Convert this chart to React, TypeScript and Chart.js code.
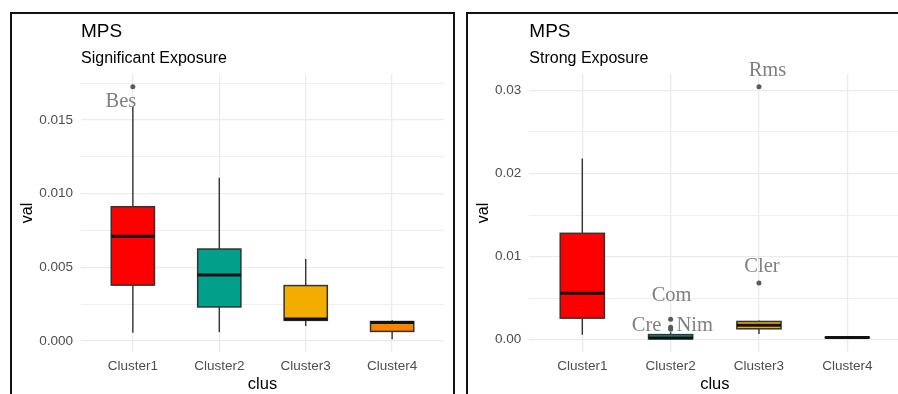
import React, { useEffect, useRef } from 'react';
import { Chart, registerables } from 'chart.js';

Chart.register(...registerables);

// ---------- data ----------
const categories = ['Cluster1', 'Cluster2', 'Cluster3', 'Cluster4'];
const chartTitle = 'MPS';
const xAxisTitle = 'clus';
const yAxisTitle = 'val';
const boxColors = ['#FF0000', '#00A08A', '#F2AD00', '#F98400'];

// Significant Exposure panel
const sigSubtitle = 'Significant Exposure';
const sigLower = [0.00057, 0.00061, 0.00102, 0.00012];
const sigQ1 = [0.0038, 0.00232, 0.00141, 0.00066];
const sigMedian = [0.00711, 0.00448, 0.0015, 0.00126];
const sigQ3 = [0.00912, 0.00625, 0.00377, 0.00133];
const sigUpper = [0.01591, 0.01109, 0.00557, 0.00141];
const sigOutClusters = [1];
const sigOutValues = [0.01727];
const sigOutLabels = ['Bes'];
const sigTicks = [0, 0.005, 0.01, 0.015];

// Strong Exposure panel
const strSubtitle = 'Strong Exposure';
const strLower = [0.0006, 0.00005, 0.00068, 0.0002];
const strQ1 = [0.0026, 0.00012, 0.00132, 0.00025];
const strMedian = [0.0056, 0.00022, 0.00176, 0.00028];
const strQ3 = [0.0128, 0.00062, 0.0022, 0.0003];
const strUpper = [0.0218, 0.0009, 0.00232, 0.00033];
const strOutClusters = [2, 2, 2, 3, 3];
const strOutValues = [0.00248, 0.00152, 0.00127, 0.00684, 0.03044];
const strOutLabels = ['Com', 'Cre', 'Nim', 'Cler', 'Rms'];
const strTicks = [0, 0.01, 0.02, 0.03];

// ---------- styles ----------
const SANS = '"Liberation Sans", Arial, sans-serif';
const SERIF = '"Liberation Serif", "Times New Roman", serif';
const labelOffsets: Record<string, [number, number]> = {
  Bes: [-12, 20],
  Com: [1, -18],
  Cre: [-24, 4],
  Nim: [24, 1.5],
  Cler: [3, -11],
  Rms: [8.5, -11],
};
const BOX_WIDTH = 0.5;

type Panel = {
  subtitle: string;
  lower: number[];
  q1: number[];
  median: number[];
  q3: number[];
  upper: number[];
  outClusters: number[];
  outValues: number[];
  outLabels: string[];
  ticks: number[];
  decimals: number;
  yAxisWidth: number;
  rightPad: number;
};

function makePlugin(p: Panel) {
  return {
    id: 'boxes',
    beforeDatasetsDraw(chart: any) {
      const { ctx } = chart;
      const x = chart.scales.x;
      const y = chart.scales.y;
      ctx.save();
      categories.forEach((_, i) => {
        const c = i + 1;
        const cx = x.getPixelForValue(c);
        const left = x.getPixelForValue(c - BOX_WIDTH / 2);
        const right = x.getPixelForValue(c + BOX_WIDTH / 2);
        const yq1 = y.getPixelForValue(p.q1[i]);
        const yq3 = y.getPixelForValue(p.q3[i]);
        const ymed = y.getPixelForValue(p.median[i]);
        const ylo = y.getPixelForValue(p.lower[i]);
        const yhi = y.getPixelForValue(p.upper[i]);
        ctx.strokeStyle = '#333333';
        ctx.lineWidth = 1.4;
        ctx.beginPath();
        ctx.moveTo(cx, yq3);
        ctx.lineTo(cx, yhi);
        ctx.moveTo(cx, yq1);
        ctx.lineTo(cx, ylo);
        ctx.stroke();
        ctx.fillStyle = boxColors[i];
        ctx.fillRect(left, yq3, right - left, yq1 - yq3);
        ctx.lineWidth = 1.5;
        ctx.strokeRect(left, yq3, right - left, yq1 - yq3);
        ctx.lineWidth = 3;
        ctx.strokeStyle = '#111111';
        ctx.beginPath();
        ctx.moveTo(left, ymed);
        ctx.lineTo(right, ymed);
        ctx.stroke();
      });
      ctx.restore();
    },
    afterDatasetsDraw(chart: any) {
      const { ctx, chartArea } = chart;
      const x = chart.scales.x;
      const y = chart.scales.y;
      ctx.save();
      ctx.font = `20.5px ${SERIF}`;
      ctx.fillStyle = '#808080';
      ctx.textAlign = 'center';
      ctx.textBaseline = 'alphabetic';
      p.outLabels.forEach((t, i) => {
        const off = labelOffsets[t] || [0, -10];
        ctx.fillText(
          t,
          x.getPixelForValue(p.outClusters[i]) + off[0],
          y.getPixelForValue(p.outValues[i]) + off[1]
        );
      });
      ctx.textAlign = 'left';
      ctx.fillStyle = '#000000';
      ctx.font = `19px ${SANS}`;
      ctx.fillText(chartTitle, chartArea.left, 22.7);
      ctx.font = `16px ${SANS}`;
      ctx.fillText(p.subtitle, chartArea.left, 49.3);
      ctx.restore();
    },
  };
}

function makeConfig(p: Panel): any {
  const all = [...p.lower, ...p.upper, ...p.outValues];
  const lo = Math.min(...all);
  const hi = Math.max(...all);
  const pad = (hi - lo) * 0.05;
  const yMin = lo - pad;
  const yMax = hi + pad;
  const step = p.ticks[1] - p.ticks[0];
  const gridVals: number[] = [];
  p.ticks.forEach((t) => {
    gridVals.push(t);
    gridVals.push(t + step / 2);
  });
  const grid = gridVals.filter((v) => v >= yMin && v <= yMax);
  const isMajor = (v: number) => p.ticks.some((m) => Math.abs(m - v) < 1e-9);

  return {
    type: 'scatter',
    data: {
      datasets: [
        {
          data: p.outClusters.map((c, i) => ({ x: c, y: p.outValues[i] })),
          pointRadius: 2.5,
          pointHoverRadius: 2.5,
          pointBackgroundColor: '#5a5a5a',
          pointBorderWidth: 0,
        },
      ],
    },
    options: {
      animation: false,
      responsive: false,
      devicePixelRatio: 1,
      events: [],
      layout: { padding: { top: 60, right: p.rightPad, bottom: 0, left: 0 } },
      plugins: {
        legend: { display: false },
        tooltip: { enabled: false },
        title: { display: false },
      },
      scales: {
        x: {
          type: 'linear',
          min: 0.4,
          max: 4.6,
          afterBuildTicks: (s: any) => {
            s.ticks = categories.map((_, i) => ({ value: i + 1 }));
          },
          afterFit: (s: any) => {
            s.height = 44;
          },
          grid: { color: '#EBEBEB', lineWidth: 1.3, drawTicks: false },
          border: { display: false },
          ticks: {
            autoSkip: false,
            maxRotation: 0,
            padding: 6,
            color: '#4D4D4D',
            font: { family: SANS, size: 13.5 },
            callback: (v: number) => categories[Math.round(v) - 1],
          },
          title: {
            display: true,
            text: xAxisTitle,
            color: '#000000',
            font: { family: SANS, size: 16.5 },
            padding: { top: 0, bottom: 2 },
          },
        },
        y: {
          type: 'linear',
          min: yMin,
          max: yMax,
          afterBuildTicks: (s: any) => {
            s.ticks = grid.map((v) => ({ value: v }));
          },
          afterFit: (s: any) => {
            s.width = p.yAxisWidth;
          },
          grid: {
            color: '#EBEBEB',
            lineWidth: (c: any) => (c.tick && isMajor(c.tick.value) ? 1.3 : 0.8),
            drawTicks: false,
          },
          border: { display: false },
          ticks: {
            autoSkip: false,
            padding: 8,
            color: '#4D4D4D',
            font: { family: SANS, size: 13.5 },
            callback: (v: number) => (isMajor(v) ? v.toFixed(p.decimals) : ''),
          },
          title: {
            display: true,
            text: yAxisTitle,
            color: '#000000',
            font: { family: SANS, size: 16 },
            padding: { top: 6, bottom: 0 },
          },
        },
      },
    },
    plugins: [makePlugin(p)],
  };
}

const sigPanel: Panel = {
  subtitle: sigSubtitle,
  lower: sigLower,
  q1: sigQ1,
  median: sigMedian,
  q3: sigQ3,
  upper: sigUpper,
  outClusters: sigOutClusters,
  outValues: sigOutValues,
  outLabels: sigOutLabels,
  ticks: sigTicks,
  decimals: 3,
  yAxisWidth: 69,
  rightPad: 9,
};

const strPanel: Panel = {
  subtitle: strSubtitle,
  lower: strLower,
  q1: strQ1,
  median: strMedian,
  q3: strQ3,
  upper: strUpper,
  outClusters: strOutClusters,
  outValues: strOutValues,
  outLabels: strOutLabels,
  ticks: strTicks,
  decimals: 2,
  yAxisWidth: 61.3,
  rightPad: 8.7,
};

const CW = 441;
const CH = 382;

export default function App() {
  const leftRef = useRef<HTMLCanvasElement | null>(null);
  const rightRef = useRef<HTMLCanvasElement | null>(null);

  useEffect(() => {
    const charts: Chart[] = [];
    if (leftRef.current) charts.push(new Chart(leftRef.current, makeConfig(sigPanel)));
    if (rightRef.current) charts.push(new Chart(rightRef.current, makeConfig(strPanel)));
    return () => charts.forEach((c) => c.destroy());
  }, []);

  const panelStyle = (left: number): React.CSSProperties => ({
    position: 'absolute',
    left,
    top: 12,
    width: 445,
    height: 420,
    border: '2px solid #111',
    boxSizing: 'border-box',
    background: '#fff',
  });

  return (
    <div
      style={{
        position: 'fixed',
        left: 0,
        top: 0,
        width: 898,
        height: 394,
        overflow: 'hidden',
        background: '#fff',
      }}
    >
      <div style={panelStyle(10)}>
        <canvas ref={leftRef} width={CW} height={CH} style={{ display: 'block', width: CW, height: CH }} />
      </div>
      <div style={panelStyle(466)}>
        <canvas ref={rightRef} width={CW} height={CH} style={{ display: 'block', width: CW, height: CH }} />
      </div>
    </div>
  );
}
